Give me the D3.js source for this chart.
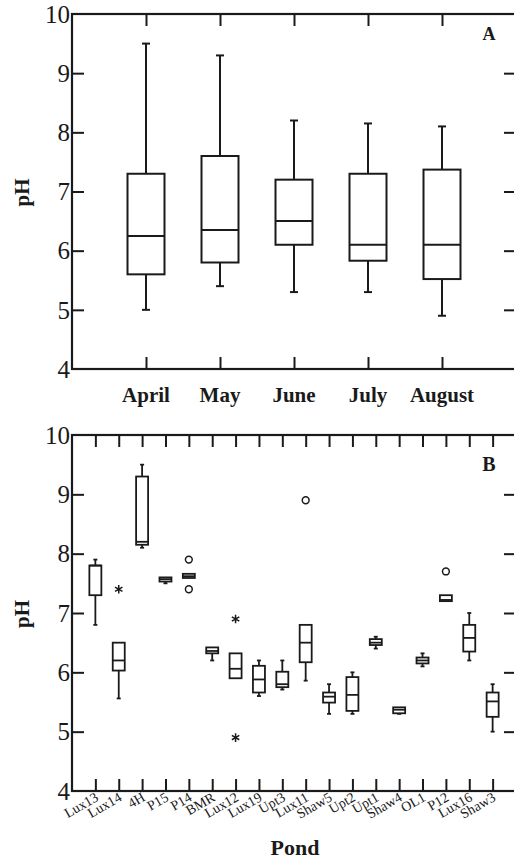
<!DOCTYPE html>
<html><head><meta charset="utf-8">
<script src="https://cdn.jsdelivr.net/npm/d3@7"></script>
<style>body{margin:0;background:#fff}svg{display:block}</style>
</head><body>
<script>
const months = ["April","May","June","July","August"];
const monthMin = [5.0,5.4,5.3,5.3,4.9];
const monthQ1  = [5.6,5.8,6.1,5.83,5.52];
const monthMed = [6.25,6.35,6.5,6.1,6.1];
const monthQ3  = [7.3,7.6,7.2,7.3,7.37];
const monthMax = [9.5,9.3,8.2,8.15,8.1];

const ponds = ["Lux13","Lux14","4H","P15","P14","BMR","Lux12","Lux19","Upt3","Lux11","Shaw5","Upt2","Upt1","Shaw4","OL1","P12","Lux16","Shaw3"];
const pondMin = [6.8,5.56,8.1,7.5,7.59,6.2,5.9,5.6,5.71,5.86,5.3,5.3,6.4,5.3,6.1,7.2,6.2,5.0];
const pondQ1  = [7.3,6.03,8.15,7.53,7.59,6.32,5.9,5.66,5.75,6.17,5.49,5.35,6.46,5.31,6.15,7.2,6.35,5.25];
const pondMed = [7.8,6.2,8.2,7.57,7.62,6.36,6.06,5.88,5.8,6.5,5.59,5.62,6.5,5.37,6.2,7.22,6.58,5.51];
const pondQ3  = [7.8,6.5,9.3,7.6,7.66,6.42,6.32,6.11,6.01,6.8,5.66,5.92,6.56,5.41,6.25,7.3,6.8,5.66];
const pondMax = [7.9,6.5,9.5,7.6,7.66,6.42,6.32,6.2,6.2,6.8,5.8,6.0,6.6,5.41,6.32,7.3,7.0,5.8];

const outlierPond  = ["Lux14","P14","P14","Lux12","Lux12","Lux11","P12"];
const outlierValue = [7.4,7.9,7.4,6.9,4.9,8.9,7.7];
const outlierShape = ["star","circle","circle","star","star","circle","circle"];

const yTicks = [4,5,6,7,8,9,10];

const W = 514, H = 860;
const svg = d3.select("body").append("svg").attr("width", W).attr("height", H)
  .style("font-family", "'Liberation Serif','Times New Roman',serif");

function panel(opts) {
  const {top, bottom, cats, mins, q1s, meds, q3s, maxs, boxW, capW, stroke, letter, letterY, letterSize} = opts;
  const left = 72, right = 516;
  const x = d3.scalePoint().domain(cats).range([left, right]).padding(1);
  const y = d3.scaleLinear().domain([4, 10]).range([bottom, top]);
  const g = svg.append("g");
  const tl = 12;

  g.append("rect").attr("x", left).attr("y", top).attr("width", right - left).attr("height", bottom - top)
    .attr("fill", "none").attr("stroke", "#1a1a1a").attr("stroke-width", 2.2);

  const yl = g.append("g").attr("transform", `translate(${left},0)`)
    .call(d3.axisRight(y).tickValues(yTicks).tickSize(tl).tickFormat(""));
  yl.select(".domain").remove();
  yl.selectAll(".tick line").attr("stroke", "#1a1a1a").attr("stroke-width", 2);
  yl.selectAll(".tick").filter(d => d === 4 || d === 10).select("line").remove();
  g.selectAll(".ylab").data(yTicks).join("text")
    .attr("x", left - 2).attr("y", d => y(d)).attr("dy", "0.35em")
    .attr("text-anchor", "end").attr("font-size", 25).attr("fill", "#1a1a1a").text(d => d);

  const yr = g.append("g").attr("transform", `translate(${right},0)`)
    .call(d3.axisLeft(y).tickValues(yTicks.filter(d => d > 4 && d < 10)).tickSize(tl).tickFormat(""));
  yr.select(".domain").remove();
  yr.selectAll(".tick line").attr("stroke", "#1a1a1a").attr("stroke-width", 2);

  const xb = g.append("g").attr("transform", `translate(0,${bottom})`)
    .call(d3.axisTop(x).tickSize(tl).tickFormat(""));
  xb.select(".domain").remove();
  xb.selectAll(".tick line").attr("stroke", "#1a1a1a").attr("stroke-width", 2);
  const xt = g.append("g").attr("transform", `translate(0,${top})`)
    .call(d3.axisBottom(x).tickSize(tl).tickFormat(""));
  xt.select(".domain").remove();
  xt.selectAll(".tick line").attr("stroke", "#1a1a1a").attr("stroke-width", 2);

  const data = cats.map((c, i) => ({c, min: mins[i], q1: q1s[i], med: meds[i], q3: q3s[i], max: maxs[i]}));
  const bg = g.selectAll(".box").data(data).join("g").attr("fill", "none")
    .attr("stroke", "#1a1a1a").attr("stroke-width", stroke);
  bg.filter(d => d.max > d.q3).append("line")
    .attr("x1", d => x(d.c)).attr("x2", d => x(d.c)).attr("y1", d => y(d.q3)).attr("y2", d => y(d.max));
  bg.filter(d => d.max > d.q3).append("line")
    .attr("x1", d => x(d.c) - capW / 2).attr("x2", d => x(d.c) + capW / 2).attr("y1", d => y(d.max)).attr("y2", d => y(d.max));
  bg.filter(d => d.min < d.q1).append("line")
    .attr("x1", d => x(d.c)).attr("x2", d => x(d.c)).attr("y1", d => y(d.q1)).attr("y2", d => y(d.min));
  bg.filter(d => d.min < d.q1).append("line")
    .attr("x1", d => x(d.c) - capW / 2).attr("x2", d => x(d.c) + capW / 2).attr("y1", d => y(d.min)).attr("y2", d => y(d.min));
  bg.append("rect")
    .attr("x", d => x(d.c) - boxW / 2).attr("width", boxW)
    .attr("y", d => y(d.q3)).attr("height", d => Math.max(0, y(d.q1) - y(d.q3)))
    .attr("fill", "#fff");
  bg.append("line")
    .attr("x1", d => x(d.c) - boxW / 2).attr("x2", d => x(d.c) + boxW / 2)
    .attr("y1", d => y(d.med)).attr("y2", d => y(d.med));

  g.append("text").attr("x", 489).attr("y", letterY).attr("text-anchor", "middle")
    .attr("font-weight", "bold").attr("font-size", letterSize).attr("fill", "#1a1a1a").text(letter);

  g.append("text").attr("transform", `translate(29,${(top + bottom) / 2 + 1}) rotate(-90)`)
    .attr("text-anchor", "middle").attr("font-weight", "bold").attr("font-size", 21)
    .attr("fill", "#1a1a1a").text("pH");

  return {x, y, g};
}

const A = panel({top: 14, bottom: 369, cats: months, mins: monthMin, q1s: monthQ1, meds: monthMed,
  q3s: monthQ3, maxs: monthMax, boxW: 37, capW: 8, stroke: 2, letter: "A", letterY: 40, letterSize: 18});
A.g.selectAll(".mlab").data(months).join("text")
  .attr("x", d => A.x(d)).attr("y", 402).attr("text-anchor", "middle")
  .attr("font-weight", "bold").attr("font-size", 21).attr("fill", "#1a1a1a").text(d => d);

const B = panel({top: 435, bottom: 791, cats: ponds, mins: pondMin, q1s: pondQ1, meds: pondMed,
  q3s: pondQ3, maxs: pondMax, boxW: 12, capW: 4, stroke: 1.8, letter: "B", letterY: 471, letterSize: 20});
B.g.selectAll(".plab").data(ponds).join("text")
  .attr("transform", d => `translate(${B.x(d) + 4},${800}) rotate(-30)`)
  .attr("text-anchor", "end").attr("font-size", 14).attr("fill", "#1a1a1a").text(d => d);
B.g.append("text").attr("x", 295).attr("y", 855).attr("text-anchor", "middle")
  .attr("font-weight", "bold").attr("font-size", 22).attr("fill", "#1a1a1a").text("Pond");

const outs = outlierPond.map((p, i) => ({p, v: outlierValue[i], s: outlierShape[i]}));
B.g.selectAll(".oc").data(outs.filter(d => d.s === "circle")).join("circle")
  .attr("cx", d => B.x(d.p)).attr("cy", d => B.y(d.v)).attr("r", 3.4)
  .attr("fill", "#fff").attr("stroke", "#1a1a1a").attr("stroke-width", 1.5);
const r = 4.3;
const starPath = () => {
  const p = d3.path();
  for (let k = 0; k < 3; k++) {
    const a = Math.PI / 2 + k * Math.PI / 3;
    p.moveTo(r * Math.cos(a), r * Math.sin(a));
    p.lineTo(-r * Math.cos(a), -r * Math.sin(a));
  }
  return p.toString();
};
B.g.selectAll(".os").data(outs.filter(d => d.s === "star")).join("path")
  .attr("transform", d => `translate(${B.x(d.p)},${B.y(d.v)})`)
  .attr("d", starPath()).attr("fill", "none").attr("stroke", "#1a1a1a").attr("stroke-width", 1.5);
</script>
</body></html>
